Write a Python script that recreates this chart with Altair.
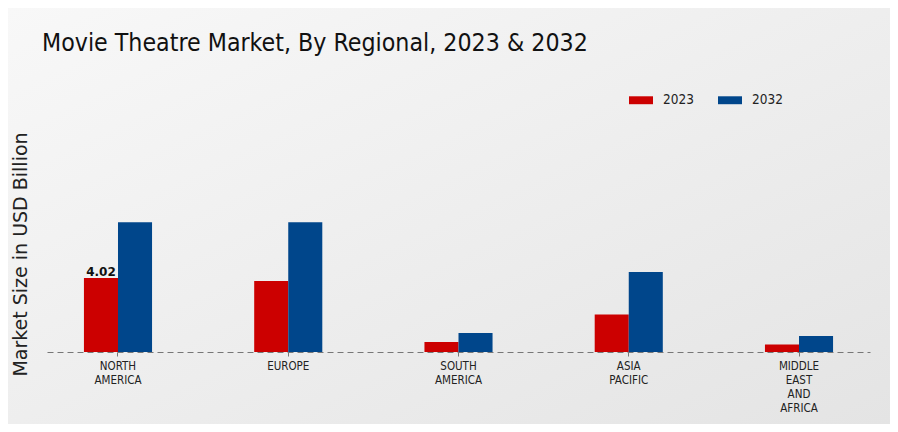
import altair as alt
import pandas as pd

regions = ["NORTH AMERICA", "EUROPE", "SOUTH AMERICA", "ASIA PACIFIC", "MIDDLE EAST AND AFRICA"]
values_2023 = [4.02, 3.86, 0.54, 2.04, 0.41]
values_2032 = [7.06, 7.06, 1.03, 4.35, 0.87]
years = ["2023", "2032"]
colors = ["#cc0000", "#00468b"]

rows = []
for r, a, b in zip(regions, values_2023, values_2032):
    rows.append({"region": r, "year": "2023", "value": a})
    rows.append({"region": r, "year": "2032", "value": b})
df = pd.DataFrame(rows)

W, H = 823, 222
PL, PT, PR, PB = 39, 122, 20, 72

bg = alt.Chart(pd.DataFrame({"k": [0]})).mark_rect(
    color=alt.Gradient(
        gradient="linear",
        stops=[alt.GradientStop(color="#f8f8f8", offset=0),
               alt.GradientStop(color="#e4e4e4", offset=1)],
        x1=0, y1=0, x2=1, y2=1,
    )
).encode(
    x=alt.value(-PL), x2=alt.value(W + PR),
    y=alt.value(-PT), y2=alt.value(H + PB),
)

xenc = alt.X(
    "region:N", sort=regions,
    scale=alt.Scale(paddingInner=0.6, paddingOuter=0.217),
    axis=alt.Axis(
        title=None, labelAngle=0, labelExpr="split(datum.label, ' ')",
        labelFont="DejaVu Sans Condensed", labelFontSize=11.5, labelColor="#222222",
        labelLineHeight=14, labelPadding=4, labelBaseline="top",
        domainDash=[6, 4], domainColor="#777777", domainWidth=1,
        ticks=True, tickSize=4, tickColor="#777777", zindex=2,
    ),
)
yenc = alt.Y(
    "value:Q",
    scale=alt.Scale(domain=[0, 12.07], nice=False),
    axis=alt.Axis(
        title="Market Size in USD Billion", titleFont="DejaVu Sans",
        titleFontSize=19, titleFontWeight="normal", titleColor="#222222",
        titleY=124, titlePadding=17, zindex=2,
        labels=False, ticks=False, domain=False, grid=False,
    ),
)

bars = alt.Chart(df).mark_bar().encode(
    x=xenc,
    xOffset=alt.XOffset("year:N", sort=years),
    y=yenc,
    color=alt.Color(
        "year:N", sort=years,
        scale=alt.Scale(domain=years, range=colors),
        legend=alt.Legend(
            title=None, orient="none", direction="horizontal",
            legendX=582, legendY=-42,
            symbolType="M-1,-0.33L1,-0.33L1,0.33L-1,0.33Z", symbolSize=576,
            symbolStrokeWidth=0, labelFont="DejaVu Sans Condensed",
            labelFontSize=13.5, labelColor="#222222", labelOffset=10,
            columnPadding=24, padding=0,
        ),
    ),
)

label = alt.Chart(df).transform_filter(
    (alt.datum.region == "NORTH AMERICA") & (alt.datum.year == "2023")
).mark_text(
    font="DejaVu Sans", fontSize=12, fontWeight="bold", color="#111111",
    baseline="bottom", dy=1,
).encode(
    x=alt.X("region:N", sort=regions),
    xOffset=alt.XOffset("year:N", sort=years),
    y="value:Q",
    text=alt.Text("value:Q", format=".2f"),
)

chart = alt.layer(bg, bars, label).properties(
    width=W, height=H,
    padding={"left": PL, "top": PT, "right": PR, "bottom": PB},
    autosize=alt.AutoSizeParams(type="none"),
    background="#ececec",
    title=alt.TitleParams(
        "Movie Theatre Market, By Regional, 2023 & 2032",
        anchor="start", frame="group", dx=-5, offset=-68, baseline="alphabetic",
        font="DejaVu Sans Condensed", fontSize=24.7, fontWeight="normal", color="#111111",
        zindex=2,
    ),
).configure_view(stroke=None)

chart.save("out.html", embed_options={"renderer": "svg", "actions": False})
